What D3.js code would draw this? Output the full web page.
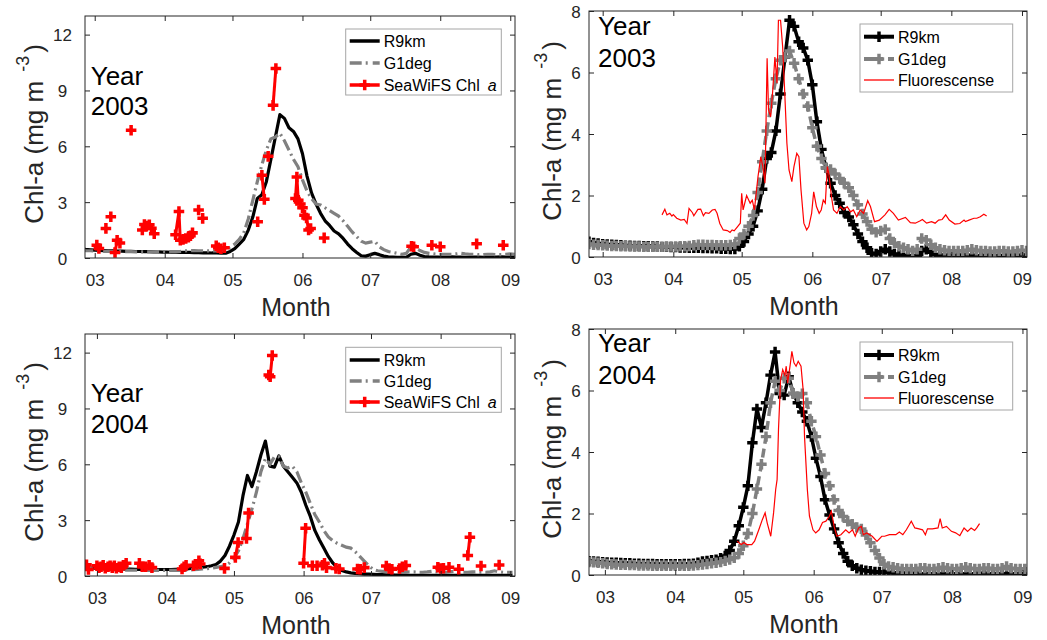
<!DOCTYPE html>
<html><head><meta charset="utf-8">
<script src="https://cdn.jsdelivr.net/npm/d3@7"></script>
<style>
body{margin:0;background:#fff;}
svg{display:block;font-family:"Liberation Sans",Arial,Helvetica,sans-serif;}
</style></head><body>
<svg id="chart" width="1047" height="640"></svg>
<script>
// ---------------- DATA ----------------
const monthTicks = ["03","04","05","06","07","08","09"];
const years = [2003, 2004];
const seriesStart = "02-23";   // model series start date (each year)
const stepDays = 2;            // model series sampled every 2 days

const r9km2003 = [0.5,0.46,0.44,0.42,0.41,0.4,0.39,0.38,0.37,0.37,0.36,0.36,0.35,0.35,0.34,0.34,0.33,0.33,0.32,
 0.32,0.31,0.31,0.3,0.3,0.3,0.29,0.29,0.28,0.28,0.27,0.27,0.26,0.26,
 0.35,0.5,0.75,1.0,1.5,2.2,3.2,3.4,4.1,5.3,6.5,7.7,7.5,7.0,6.8,6.4,5.6,4.4,3.5,2.9,2.4,2.0,1.75,1.45,1.3,1.05,0.75,0.5,0.3,0.12,0.1,0.18,0.25,0.18,0.1,0.06,0.05,0.04,0.04,0.04,0.2,0.25,0.15,0.08,
 0.06,0.05,0.05,0.04,0.05,0.06,0.05,0.05,0.04,0.04,0.05,0.05,0.04,0.04,0.05,0.05,0.06,0.05,0.05,0.06];
const g1deg2003 = [0.42,0.4,0.39,0.38,0.37,0.36,0.36,0.35,0.35,0.34,0.34,0.34,0.33,0.33,0.33,0.33,0.33,0.34,0.34,
 0.34,0.35,0.35,0.36,0.38,0.4,0.4,0.39,0.39,0.38,0.38,0.38,0.39,0.42,
 0.6,0.75,1.0,1.35,2.1,3.1,4.1,5.0,5.8,6.4,6.5,6.7,6.3,5.8,5.3,4.9,4.2,3.6,3.2,2.9,2.85,2.7,2.55,2.4,2.25,2.0,1.7,1.4,1.15,0.9,0.8,0.85,0.9,0.6,0.45,0.35,0.3,0.25,0.2,0.25,0.6,0.55,0.4,0.3,
 0.25,0.22,0.2,0.2,0.2,0.2,0.22,0.25,0.22,0.2,0.2,0.18,0.18,0.2,0.2,0.18,0.18,0.2,0.22,0.2];
const r9km2004 = [0.45,0.44,0.43,0.42,0.41,0.4,0.4,0.39,0.38,0.38,0.37,0.37,0.36,0.36,0.36,0.35,0.35,0.35,0.35,
 0.35,0.35,0.36,0.36,0.37,0.4,0.44,0.46,0.48,0.5,0.55,0.62,0.8,1.1,
 1.6,2.2,2.9,4.3,5.4,4.8,5.6,6.5,7.25,5.9,5.85,6.45,5.9,5.6,5.3,5.0,4.5,3.8,3.2,2.45,1.95,1.5,1.05,0.7,0.45,0.3,0.22,0.17,0.14,0.12,0.1,0.1,
 0.09,0.08,0.07,0.06,0.06,0.05,0.05,0.05,0.04,0.04,0.04,0.04,0.04,0.04,0.03,0.04,0.04,0.03,0.03,0.03,0.04,0.05,0.05,0.04,0.03,0.03,0.03,0.03,0.04,0.04,0.03,0.03];
const g1deg2004 = [0.42,0.41,0.4,0.38,0.36,0.35,0.34,0.33,0.33,0.32,0.32,0.31,0.31,0.31,0.3,0.3,0.3,0.3,0.3,
 0.3,0.3,0.3,0.3,0.31,0.32,0.34,0.36,0.38,0.4,0.42,0.46,0.5,0.56,
 0.7,0.95,1.35,2.0,2.8,3.6,4.5,5.6,6.3,6.0,6.4,6.4,5.9,5.8,5.9,5.6,5.0,4.5,3.9,3.3,2.9,2.45,2.1,1.9,1.75,1.65,1.55,1.5,1.3,1.05,0.8,0.55,0.35,
 0.28,0.25,0.22,0.2,0.2,0.2,0.2,0.22,0.22,0.2,0.2,0.22,0.25,0.22,0.2,0.2,0.22,0.25,0.22,0.2,0.2,0.22,0.22,0.2,0.2,0.22,0.28,0.22,0.2,0.2,0.2];

// fluorescence: [month position, value]
const fluor2003 = [[3.84,1.37],[3.88,1.55],[3.91,1.37],[3.95,1.42],[3.98,1.33],[4.0,1.38],[4.05,1.26],[4.11,1.2],[4.16,1.22],[4.2,1.09],[4.23,1.58],[4.28,1.44],[4.3,1.34],[4.36,1.55],[4.4,1.56],[4.44,1.34],[4.47,1.44],[4.52,1.42],[4.57,1.53],[4.61,1.55],[4.64,1.42],[4.68,1.09],[4.73,0.88],[4.79,0.86],[4.83,0.8],[4.86,0.88],[4.89,0.85],[4.94,0.99],[4.98,1.1],[5.0,2.07],[5.02,1.53],[5.07,2.0],[5.12,1.75],[5.15,1.85],[5.18,1.53],[5.23,2.6],[5.27,3.26],[5.3,2.94],[5.33,2.4],[5.36,6.46],[5.38,4.78],[5.41,4.56],[5.44,5.43],[5.47,6.5],[5.5,5.65],[5.52,7.7],[5.55,7.7],[5.58,6.84],[5.61,5.32],[5.64,3.7],[5.67,2.83],[5.71,2.45],[5.74,2.94],[5.78,3.37],[5.81,3.26],[5.84,2.18],[5.88,1.1],[5.92,0.88],[5.95,0.99],[5.99,1.42],[6.02,2.12],[6.06,1.64],[6.1,1.42],[6.13,1.53],[6.16,1.85],[6.19,1.75],[6.22,2.94],[6.24,2.72],[6.28,1.96],[6.31,1.53],[6.36,1.42],[6.41,1.64],[6.46,1.53],[6.51,1.64],[6.56,1.47],[6.6,1.53],[6.65,1.31],[6.7,1.53],[6.75,1.42],[6.81,1.83],[6.85,1.64],[6.91,1.15],[6.98,1.2],[7.06,1.37],[7.12,1.55],[7.18,1.42],[7.25,1.2],[7.35,1.29],[7.42,1.12],[7.49,1.1],[7.56,1.18],[7.59,1.22],[7.65,1.1],[7.72,1.15],[7.77,1.1],[7.82,1.2],[7.87,1.22],[7.92,1.37],[7.97,1.2],[8.05,1.07],[8.12,1.09],[8.18,1.2],[8.2,1.15],[8.25,1.2],[8.32,1.26],[8.36,1.26],[8.41,1.31],[8.46,1.39],[8.5,1.33]];
const fluor2004 = [[4.91,1.1],[4.94,1.04],[4.97,0.99],[5.01,1.06],[5.05,0.99],[5.12,0.99],[5.16,1.1],[5.22,1.47],[5.27,1.8],[5.31,2.02],[5.34,1.69],[5.39,1.26],[5.43,2.02],[5.46,2.78],[5.48,3.1],[5.5,4.73],[5.53,6.35],[5.56,6.68],[5.59,6.5],[5.61,6.79],[5.63,6.24],[5.67,6.9],[5.69,7.27],[5.72,6.9],[5.75,6.79],[5.78,6.95],[5.82,6.79],[5.85,6.03],[5.87,4.5],[5.91,2.78],[5.94,1.91],[5.99,1.47],[6.03,1.37],[6.08,1.47],[6.13,1.71],[6.18,1.75],[6.23,1.91],[6.26,2.07],[6.3,1.58],[6.34,1.26],[6.4,1.31],[6.47,1.47],[6.52,1.37],[6.57,1.47],[6.61,1.26],[6.66,1.53],[6.7,1.58],[6.73,1.31],[6.78,1.37],[6.86,1.26],[6.93,1.09],[7.0,1.26],[7.04,1.26],[7.11,1.31],[7.2,1.31],[7.25,1.4],[7.3,1.31],[7.35,1.47],[7.42,1.75],[7.47,1.53],[7.53,1.5],[7.58,1.47],[7.62,1.31],[7.65,1.5],[7.72,1.5],[7.8,1.53],[7.83,1.83],[7.86,1.53],[7.92,1.58],[7.99,1.42],[8.05,1.37],[8.11,1.28],[8.17,1.53],[8.22,1.42],[8.27,1.53],[8.32,1.45],[8.35,1.53],[8.39,1.67]];

// SeaWiFS Chl a: runs of consecutive observations, [month position, value]
const seawifs2003 = [
 [[3.03,0.69],[3.06,0.51]], [[3.16,1.59]], [[3.23,2.22]],
 [[3.29,0.3],[3.32,0.95],[3.36,0.8]], [[3.52,6.86]],
 [[3.68,1.5],[3.71,1.8],[3.74,1.72],[3.78,1.78],[3.81,1.6],[3.85,1.3]],
 [[4.16,1.25],[4.21,2.5],[4.23,0.95],[4.27,1.0],[4.31,1.05],[4.35,1.12],[4.38,1.2],[4.41,1.35]],
 [[4.5,2.58]], [[4.56,2.13]],
 [[4.76,0.65],[4.79,0.55],[4.83,0.5]], [[4.88,0.55]],
 [[5.36,1.95]], [[5.42,4.45],[5.455,3.15]], [[5.51,5.46]], [[5.58,8.2],[5.62,10.18]],
 [[5.9,3.2],[5.92,4.35],[5.94,3.1],[5.97,2.9],[6.0,2.7],[6.03,2.3],[6.06,2.15],[6.09,1.5],[6.12,1.58]],
 [[6.32,1.08]], [[7.59,0.63],[7.62,0.6]], [[7.88,0.68]], [[8.0,0.6]], [[8.52,0.76]], [[8.9,0.68]]
];
const seawifs2004 = [
 [[2.84,0.6],[2.87,0.35]],
 [[3.0,0.55],[3.03,0.45],[3.06,0.5],[3.09,0.58],[3.12,0.42],[3.16,0.5],[3.19,0.55],[3.22,0.45],[3.25,0.55],[3.28,0.42],[3.32,0.5],[3.35,0.45],[3.38,0.58],[3.42,0.68]],
 [[3.61,0.68],[3.65,0.5],[3.7,0.5],[3.75,0.58],[3.79,0.45]],
 [[4.23,0.38],[4.26,0.5],[4.29,0.58]],
 [[4.4,0.55],[4.45,0.62],[4.48,0.82],[4.5,0.65]],
 [[4.86,0.41]], [[5.02,1.0],[5.06,1.8]], [[5.18,2.01],[5.21,3.38]],
 [[5.5,10.8],[5.52,10.7],[5.55,11.85]],
 [[6.0,0.68],[6.03,2.57]],
 [[6.13,0.55],[6.2,0.55],[6.28,0.58],[6.31,0.68],[6.34,0.45]],
 [[6.48,0.41],[6.53,0.38]], [[6.8,0.38],[6.84,0.36],[6.9,0.45]],
 [[7.22,0.54],[7.26,0.4],[7.3,0.36]], [[7.41,0.4],[7.45,0.5],[7.5,0.56]],
 [[7.96,0.47],[8.0,0.4],[8.04,0.42]], [[8.12,0.47]], [[8.26,0.36]],
 [[8.39,1.1],[8.42,2.08]], [[8.58,0.54]], [[8.84,0.59]]
];
const leftYTicks = [0,3,6,9,12];
const rightYTicks = [0,2,4,6,8];
const legendLeft = ["R9km","G1deg","SeaWiFS Chl"];
const legendRight = ["R9km","G1deg","Fluorescense"];

// ---------------- HELPERS ----------------
const DAY = 864e5;
function monthToDate(year, m){
  const mi = Math.floor(m);
  const start = Date.UTC(year, mi-1, 1);
  const n = (Date.UTC(year, mi, 1) - start)/DAY;
  return new Date(start + (m-mi)*n*DAY);
}
function modelSeries(year, vals){
  const [mm, dd] = seriesStart.split("-").map(Number);
  const t0 = Date.UTC(year, mm-1, dd);
  return vals.map((v,i)=>({x:new Date(t0 + i*stepDays*DAY), y:v}));
}
function pts(year, arr){ return arr.map(([m,v])=>({x:monthToDate(year,m), y:v})); }

const svg = d3.select("#chart");
const INK = "#262626", GRAY = "#808080", RED = "#ff0000";

const panels = [
 {id:"p1", year:2003, kind:"sat", left:85, right:515, top:16, bottom:258, ymax:13, yticks:leftYTicks,
  xStart:23.7, xEnd:2.1, tickLabX:62.5, yLabX:43, legend:{x:345.7,y:29,w:155.6,h:66,rows:[41,63,85]},
  yearX:90.7, yearY:[85,115], r9:r9km2003, g1:g1deg2003, obs:seawifs2003},
 {id:"p2", year:2003, kind:"flu", left:589, right:1027, top:11, bottom:257, ymax:8, yticks:rightYTicks,
  xStart:22.0, xEnd:2.2, tickLabX:576, yLabX:561, legend:{x:860,y:24,w:152.7,h:68,rows:[36.7,59,80]},
  yearX:598, yearY:[35,66.7], r9:r9km2003, g1:g1deg2003, fl:fluor2003},
 {id:"p3", year:2004, kind:"sat", left:85, right:515, top:334, bottom:576, ymax:13, yticks:leftYTicks,
  xStart:23.7, xEnd:2.1, tickLabX:62.5, yLabX:43, legend:{x:345.7,y:347.3,w:155.6,h:65,rows:[360,381,402]},
  yearX:90.7, yearY:[401.7,433.3], r9:r9km2004, g1:g1deg2004, obs:seawifs2004},
 {id:"p4", year:2004, kind:"flu", left:589, right:1027, top:329, bottom:575, ymax:8, yticks:rightYTicks,
  xStart:22.0, xEnd:2.0, tickLabX:576, yLabX:561, legend:{x:860,y:342,w:152.7,h:68,rows:[355,377,398]},
  yearX:598, yearY:[352.3,384], r9:r9km2004, g1:g1deg2004, fl:fluor2004}
];

const crossSat = d3.symbol().type(d3.symbolCross).size(62);
const crossMod = d3.symbol().type(d3.symbolCross).size(60);

panels.forEach(p=>{
  const x = d3.scaleUtc()
    .domain([new Date(Date.UTC(p.year,1,1)+p.xStart*DAY), new Date(Date.UTC(p.year,8,1)+p.xEnd*DAY)])
    .range([p.left, p.right]);
  const y = d3.scaleLinear().domain([0,p.ymax]).range([p.bottom,p.top]);
  const tickDates = monthTicks.map(m=>new Date(Date.UTC(p.year,+m-1,1)));
  const g = svg.append("g");

  svg.append("clipPath").attr("id","clip-"+p.id).append("rect")
    .attr("x",p.left).attr("y",p.top).attr("width",p.right-p.left).attr("height",p.bottom-p.top);
  const plot = g.append("g").attr("clip-path",`url(#clip-${p.id})`);

  const line = d3.line().x(d=>x(d.x)).y(d=>y(d.y));
  const r9 = modelSeries(p.year, p.r9), g1 = modelSeries(p.year, p.g1);

  if(p.kind==="sat"){
    plot.append("path").attr("d",line(r9)).attr("fill","none").attr("stroke","#000").attr("stroke-width",3.2).attr("stroke-linejoin","round");
    plot.append("path").attr("d",line(g1)).attr("fill","none").attr("stroke",GRAY).attr("stroke-width",3.2)
      .attr("stroke-dasharray","12,4,2,4");
    p.obs.forEach(seg=>{
      const s = pts(p.year, seg);
      if(s.length>1) plot.append("path").attr("d",line(s)).attr("fill","none").attr("stroke",RED).attr("stroke-width",3);
      plot.selectAll(null).data(s).join("path").attr("d",crossSat)
        .attr("transform",d=>`translate(${x(d.x)},${y(d.y)})`).attr("fill",RED);
    });
  } else {
    plot.append("path").attr("d",line(r9)).attr("fill","none").attr("stroke","#000").attr("stroke-width",3.5).attr("stroke-linejoin","round");
    plot.selectAll(null).data(r9).join("path").attr("d",crossMod)
      .attr("transform",d=>`translate(${x(d.x)},${y(d.y)})`).attr("fill","#000");
    plot.append("path").attr("d",line(g1)).attr("fill","none").attr("stroke",GRAY).attr("stroke-width",3.5).attr("stroke-dasharray","9,5");
    plot.selectAll(null).data(g1).join("path").attr("d",crossMod)
      .attr("transform",d=>`translate(${x(d.x)},${y(d.y)})`).attr("fill",GRAY);
    plot.append("path").attr("d",line(pts(p.year,p.fl))).attr("fill","none").attr("stroke",RED).attr("stroke-width",1.2);
  }

  // axes (box with inward ticks, MATLAB style)
  const axB = g.append("g").attr("transform",`translate(0,${p.bottom})`)
    .call(d3.axisBottom(x).tickValues(tickDates).tickFormat(d3.utcFormat("%m")).tickSizeInner(-5).tickSizeOuter(0).tickPadding(0));
  axB.selectAll("text").attr("dy",null).attr("y",28).style("font-size","17px").attr("fill",INK);
  const axT = g.append("g").attr("transform",`translate(0,${p.top})`)
    .call(d3.axisTop(x).tickValues(tickDates).tickFormat("").tickSizeInner(-5).tickSizeOuter(0));
  const axL = g.append("g").attr("transform",`translate(${p.left},0)`)
    .call(d3.axisLeft(y).tickValues(p.yticks).tickSizeInner(-5).tickSizeOuter(0));
  axL.selectAll("text").attr("x",p.tickLabX-p.left).attr("text-anchor","middle").attr("dy","0.36em").style("font-size","17px").attr("fill",INK);
  const axR = g.append("g").attr("transform",`translate(${p.right},0)`)
    .call(d3.axisRight(y).tickValues(p.yticks).tickFormat("").tickSizeInner(-5).tickSizeOuter(0));
  [axB,axT,axL,axR].forEach(a=>{ a.select(".domain").remove(); a.selectAll("line").attr("stroke",INK); a.attr("font-family",null); });
  g.append("rect").attr("x",p.left).attr("y",p.top).attr("width",p.right-p.left).attr("height",p.bottom-p.top)
    .attr("fill","none").attr("stroke",INK).attr("stroke-width",1);

  // axis labels
  g.append("text").attr("x",(p.left+p.right)/2-4).attr("y",p.bottom+58).attr("text-anchor","middle")
    .style("font-size","25px").attr("fill",INK).text("Month");
  const yl = g.append("text").attr("transform",`translate(${p.yLabX},${(p.top+p.bottom)/2-3}) rotate(-90)`)
    .attr("text-anchor","middle").style("font-size","26px").attr("fill",INK);
  yl.append("tspan").text("Chl-a (mg m");
  yl.append("tspan").attr("dx",9).attr("dy",-14).style("font-size","18px").text("-3");
  yl.append("tspan").attr("dx",3).attr("dy",14).text(")");

  // year label
  g.append("text").attr("x",p.yearX).attr("y",p.yearY[0]).style("font-size","26px").attr("fill","#000").text("Year");
  g.append("text").attr("x",p.yearX).attr("y",p.yearY[1]).style("font-size","26px").attr("fill","#000").text(String(p.year));

  // legend
  const L = p.legend;
  const lg = g.append("g");
  lg.append("rect").attr("x",L.x).attr("y",L.y).attr("width",L.w).attr("height",L.h)
    .attr("fill","#fff").attr("stroke","#a6a6a6").attr("stroke-width",1);
  const lx0 = L.x+4, lx1 = L.x+34, tx = L.x+38;
  const names = p.kind==="sat" ? legendLeft : legendRight;
  const sampleLine = (row, stroke, w, dash)=>{
    const l = lg.append("line").attr("x1",lx0).attr("x2",lx1).attr("y1",row).attr("y2",row)
      .attr("stroke",stroke).attr("stroke-width",w);
    if(dash) l.attr("stroke-dasharray",dash);
  };
  const mid = (lx0+lx1)/2;
  if(p.kind==="sat"){
    sampleLine(L.rows[0],"#000",3.5);
    sampleLine(L.rows[1],GRAY,3.5,"12,4,2,5");
    sampleLine(L.rows[2],RED,3.5);
    lg.append("path").attr("d",crossSat).attr("transform",`translate(${mid},${L.rows[2]})`).attr("fill",RED);
  } else {
    sampleLine(L.rows[0],"#000",4);
    lg.append("path").attr("d",crossMod).attr("transform",`translate(${mid},${L.rows[0]})`).attr("fill","#000");
    sampleLine(L.rows[1],GRAY,4,"19,5");
    lg.append("path").attr("d",crossMod).attr("transform",`translate(${mid},${L.rows[1]})`).attr("fill",GRAY);
    sampleLine(L.rows[2],RED,1.3);
  }
  names.forEach((n,i)=>{
    const t = lg.append("text").attr("x",tx).attr("y",L.rows[i]+5.8).style("font-size","16px").attr("fill","#000").text(n);
    if(p.kind==="sat" && i===2) t.append("tspan").attr("dx",8).style("font-style","italic").text("a");
  });
});
</script>
</body></html>
